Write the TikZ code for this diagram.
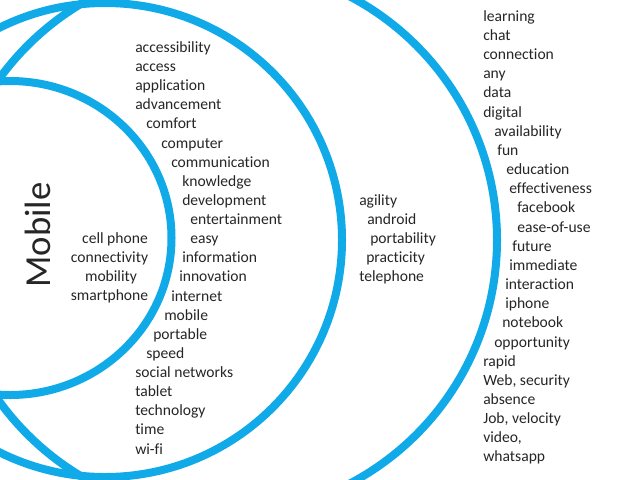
\documentclass[tikz,border=0pt]{standalone}
\usepackage{fontspec}
\setmainfont{Carlito}[Ligatures=NoCommon]
\definecolor{ringblue}{RGB}{16,170,232}
\definecolor{wordgray}{RGB}{38,38,38}
\begin{document}
\begin{tikzpicture}[x=0.75pt,y=-0.75pt,
  ring/.style={draw=ringblue,line width=6pt},
  word/.style={anchor=base west,yshift=-3.9pt,inner sep=0pt,text=wordgray,font=\fontsize{11.7pt}{14pt}\selectfont},
  cword/.style={anchor=base,yshift=-3.9pt,inner sep=0pt,text=wordgray,font=\fontsize{11.7pt}{14pt}\selectfont},
  title/.style={anchor=base,inner sep=0pt,text=wordgray,rotate=90,font=\fontsize{27.5pt}{30pt}\selectfont}]
\useasboundingbox (0,0) rectangle (638,479);
\clip (0,0) rectangle (638,479);
\fill[white] (0,0) rectangle (638,479);
% rings
\draw[ring] (10,238) ellipse [x radius=161.5, y radius=157];
\draw[ring] (105,240) circle [radius=237];
\draw[ring] (222,240) circle [radius=275];
% title
\node[title] (mobile) at (50,235) {Mobile};
% inner circle words
\node[cword] (i1) at (115,238) {cell phone};
\node[cword] (i2) at (109.5,257) {connectivity};
\node[cword] (i3) at (111,276) {mobility};
\node[cword] (i4) at (109.5,295) {smartphone};
% second band words
\node[word] (a1) at (135,47) {accessibility};
\node[word] (a2) at (135,66) {access};
\node[word] (a3) at (135,85) {application};
\node[word] (a4) at (135,104) {advancement};
\node[word] (a5) at (146,123) {comfort};
\node[word] (a6) at (161,143) {computer};
\node[word] (a7) at (171,162) {communication};
\node[word] (a8) at (182,181) {knowledge};
\node[word] (a9) at (182,200) {development};
\node[word] (a10) at (190,219) {entertainment};
\node[word] (a11) at (190,238) {easy};
\node[word] (a12) at (182,257) {information};
\node[word] (a13) at (179,276) {innovation};
\node[word] (a14) at (171,296) {internet};
\node[word] (a15) at (164,315) {mobile};
\node[word] (a16) at (153,334) {portable};
\node[word] (a17) at (146,353) {speed};
\node[word] (a18) at (135,372) {social networks};
\node[word] (a19) at (135,391) {tablet};
\node[word] (a20) at (135,410) {technology};
\node[word] (a21) at (135,429) {time};
\node[word] (a22) at (135,449) {wi-fi};
% third band words
\node[word] (b1) at (359,200) {agility};
\node[word] (b2) at (367,219) {android};
\node[word] (b3) at (370,238) {portability};
\node[word] (b4) at (366,257) {practicity};
\node[word] (b5) at (359,276) {telephone};
% outer words
\node[word] (c1) at (483,16) {learning};
\node[word] (c2) at (483,35) {chat};
\node[word] (c3) at (483,54) {connection};
\node[word] (c4) at (483,73) {any};
\node[word] (c5) at (483,92) {data};
\node[word] (c6) at (483,112) {digital};
\node[word] (c7) at (494,131) {availability};
\node[word] (c8) at (497,150) {fun};
\node[word] (c9) at (506,169) {education};
\node[word] (c10) at (509,188) {effectiveness};
\node[word] (c11) at (517,207) {facebook};
\node[word] (c12) at (517,227) {ease-of-use};
\node[word] (c13) at (512,246) {future};
\node[word] (c14) at (509,265) {immediate};
\node[word] (c15) at (505,284) {interaction};
\node[word] (c16) at (505,303) {iphone};
\node[word] (c17) at (502,322) {notebook};
\node[word] (c18) at (494,342) {opportunity};
\node[word] (c19) at (483,361) {rapid};
\node[word] (c20) at (483,380) {Web, security};
\node[word] (c21) at (483,399) {absence};
\node[word] (c22) at (483,418) {Job, velocity};
\node[word] (c23) at (483,437) {video,};
\node[word] (c24) at (483,456) {whatsapp};
\end{tikzpicture}
\end{document}
